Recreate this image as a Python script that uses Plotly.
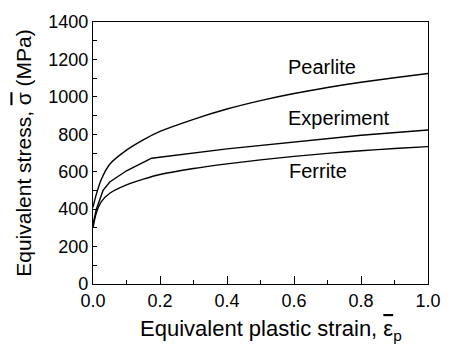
import plotly.graph_objects as go

# Data
strain = [0.0, 0.01, 0.025, 0.05, 0.1, 0.15, 0.2, 0.3, 0.4, 0.5, 0.6, 0.7, 0.8, 0.9, 1.0]
pearlite = [410, 480, 560, 640, 715, 770, 815, 880, 935, 980, 1018, 1050, 1078, 1102, 1125]
ferrite = [300, 380, 440, 485, 530, 560, 585, 617, 642, 663, 682, 698, 712, 724, 734]
exp_strain = [0.0, 0.01, 0.03, 0.05, 0.1, 0.175, 0.4, 0.6, 0.8, 1.0]
experiment = [320, 400, 500, 545, 605, 672, 722, 760, 795, 823]

labels = ["Pearlite", "Experiment", "Ferrite"]
label_x = [0.575, 0.575, 0.58]
label_y = [1160, 885, 603]

x_title = 'Equivalent plastic strain, <span style="text-decoration:overline;font-size:22px">ε</span><sub>p</sub>'
y_title = 'Equivalent stress, <span style="text-decoration:overline;font-size:21px">σ</span> (MPa)'

font = "Liberation Sans, Arial, Helvetica, sans-serif"
fig = go.Figure()
line = dict(color="black", width=1.4)
fig.add_trace(go.Scatter(x=strain, y=pearlite, mode="lines", line=dict(line, shape="spline", smoothing=0.8)))
fig.add_trace(go.Scatter(x=exp_strain, y=experiment, mode="lines", line=line))
fig.add_trace(go.Scatter(x=strain, y=ferrite, mode="lines", line=dict(line, shape="spline", smoothing=0.8)))

for t, xx, yy in zip(labels, label_x, label_y):
    fig.add_annotation(x=xx, y=yy, text=t, showarrow=False, xanchor="left", yanchor="middle",
                       font=dict(size=20, color="black", family=font))

# x-axis title (slightly right of centre, as in the reference)
fig.add_annotation(x=0.53, y=0, xref="paper", yref="paper", text=x_title, showarrow=False,
                   xanchor="center", yanchor="middle", yshift=-46,
                   font=dict(size=22, color="black", family=font))

fig.update_layout(
    width=453, height=344,
    margin=dict(l=93, r=24, t=18, b=60),
    paper_bgcolor="white", plot_bgcolor="white",
    showlegend=False,
    font=dict(family=font, size=18, color="black"),
)
fig.update_xaxes(range=[0, 1.0], tickvals=[0, 0.2, 0.4, 0.6, 0.8, 1.0],
                 ticktext=["0.0", "0.2", "0.4", "0.6", "0.8", "1.0"],
                 ticks="inside", ticklen=8, tickwidth=1, tickcolor="black",
                 minor=dict(dtick=0.1, ticks="inside", ticklen=4, tickcolor="black"),
                 showgrid=False, zeroline=False, showline=True, linecolor="black", linewidth=1.2,
                 mirror=True, tickfont=dict(size=18))
fig.update_yaxes(range=[0, 1400], tickvals=[0, 200, 400, 600, 800, 1000, 1200, 1400],
                 ticks="inside", ticklen=4, tickwidth=1, tickcolor="black",
                 minor=dict(dtick=100, ticks="inside", ticklen=4, tickcolor="black"),
                 showgrid=False, zeroline=False, showline=True, linecolor="black", linewidth=1.2,
                 mirror=True, tickfont=dict(size=18),
                 title=dict(text=y_title, standoff=10, font=dict(size=21, family=font)))

fig.write_html("out.html")
